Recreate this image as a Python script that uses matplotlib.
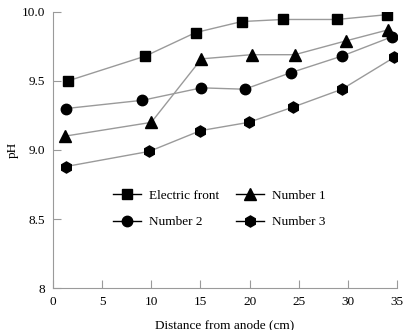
import numpy as np
import matplotlib.pyplot as plt

plt.rcParams['font.family'] = ['Liberation Serif', 'DejaVu Serif']

# distance from anode (cm) and pH
x_front = [1.5, 9.4, 14.5, 19.2, 23.4, 28.9, 34.0]
ph_front = [9.50, 9.68, 9.85, 9.93, 9.945, 9.945, 9.98]

x_n1 = [1.2, 10.0, 15.1, 20.2, 24.6, 29.8, 34.1]
ph_n1 = [9.10, 9.20, 9.66, 9.69, 9.69, 9.79, 9.87]

x_n2 = [1.3, 9.1, 15.1, 19.5, 24.2, 29.4, 34.5]
ph_n2 = [9.30, 9.36, 9.45, 9.44, 9.56, 9.68, 9.82]

x_n3 = [1.3, 9.8, 15.0, 19.9, 24.4, 29.4, 34.7]
ph_n3 = [8.88, 8.99, 9.14, 9.20, 9.31, 9.44, 9.67]

xticks = [0, 5, 10, 15, 20, 25, 30, 35]
yticks = [8, 8.5, 9.0, 9.5, 10.0]
ylabels = ['8', '8.5', '9.0', '9.5', '10.0']

fig = plt.figure(figsize=(4.08, 3.30), dpi=100)
ax = fig.add_axes([0.13, 0.127, 0.843, 0.837])

line_kw = dict(color='#9a9a9a', lw=1.0, markerfacecolor='black',
               markeredgecolor='black')
l1, = ax.plot(x_front, ph_front, marker='s', ms=7.5, label='Electric front', **line_kw)
l2, = ax.plot(x_n1, ph_n1, marker='^', ms=8.5, label='Number 1', **line_kw)
l3, = ax.plot(x_n2, ph_n2, marker='o', ms=7.5, label='Number 2', **line_kw)
l4, = ax.plot(x_n3, ph_n3, marker='h', ms=8, label='Number 3', **line_kw)

ax.set_xlim(0, 35)
ax.set_ylim(8, 10)
ax.set_xticks(xticks)
ax.set_yticks(yticks)
ax.set_yticklabels(ylabels)
ax.tick_params(direction='in', length=6, color='#9a9a9a', labelsize=9.5, pad=6)
ax.spines['top'].set_visible(False)
ax.spines['right'].set_visible(False)
ax.spines['left'].set_color('#9a9a9a')
ax.spines['bottom'].set_color('#9a9a9a')

ax.set_xlabel('Distance from anode (cm)', fontsize=9.5, labelpad=8)
ax.set_ylabel('pH', fontsize=9.5, labelpad=2)

# column-wise fill -> order so rows read: front, N1 / N2, N3
handles = [l1, l3, l2, l4]
leg = ax.legend(handles, [h.get_label() for h in handles], ncol=2,
                frameon=False, fontsize=9.5, loc='upper left',
                bbox_to_anchor=(0.14, 0.40), handlelength=2.1,
                handletextpad=0.6, columnspacing=1.3, labelspacing=1.1)
for h in leg.legend_handles:
    h.set_color('black')
    h.set_markerfacecolor('black')

fig.savefig('out.png', dpi=100)
